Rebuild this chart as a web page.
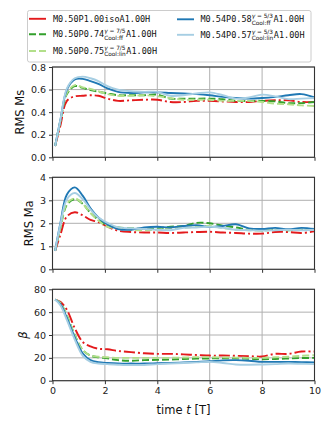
<!DOCTYPE html>
<html>
<head>
<meta charset="utf-8">
<script src="https://cdn.jsdelivr.net/npm/d3@7"></script>
<style>
  body { margin: 0; background: #fff; }
  svg { display: block; }
</style>
</head>
<body>
<div id="chart"></div>
<script>
// sampling times [T]
const time = [0.1, 0.3, 0.55, 0.85, 1.15, 1.45, 1.75, 2.1, 2.5, 3.0, 3.5, 4.0, 4.5, 5.0, 5.5, 6.0, 6.5, 7.0, 7.5, 8.0, 8.5, 9.0, 9.5, 10.0]

// RMS sonic Mach number
const msIso = [0.10, 0.28, 0.50, 0.54, 0.545, 0.55, 0.545, 0.52, 0.50, 0.505, 0.51, 0.51, 0.49, 0.49, 0.50, 0.50, 0.495, 0.49, 0.49, 0.50, 0.505, 0.505, 0.49, 0.49]
const msG75ff = [0.10, 0.32, 0.56, 0.63, 0.615, 0.595, 0.58, 0.565, 0.55, 0.55, 0.55, 0.555, 0.52, 0.52, 0.52, 0.52, 0.515, 0.50, 0.50, 0.50, 0.495, 0.48, 0.48, 0.49]
const msG75lin = [0.10, 0.32, 0.57, 0.64, 0.62, 0.605, 0.585, 0.56, 0.545, 0.545, 0.55, 0.54, 0.525, 0.51, 0.51, 0.51, 0.50, 0.50, 0.50, 0.49, 0.475, 0.47, 0.46, 0.455]
const msG53ff = [0.10, 0.33, 0.60, 0.69, 0.695, 0.675, 0.65, 0.61, 0.58, 0.57, 0.575, 0.575, 0.57, 0.565, 0.56, 0.55, 0.535, 0.525, 0.52, 0.525, 0.535, 0.55, 0.56, 0.53]
const msG53lin = [0.10, 0.33, 0.61, 0.70, 0.715, 0.70, 0.675, 0.63, 0.60, 0.585, 0.58, 0.58, 0.545, 0.55, 0.565, 0.575, 0.55, 0.52, 0.53, 0.555, 0.54, 0.515, 0.52, 0.525]

// RMS Alfven Mach number
const maIso = [0.8, 1.5, 2.3, 2.48, 2.35, 2.15, 2.05, 1.85, 1.68, 1.62, 1.60, 1.60, 1.58, 1.60, 1.62, 1.63, 1.60, 1.58, 1.55, 1.55, 1.62, 1.62, 1.58, 1.65]
const maG75ff = [0.8, 1.8, 2.8, 3.05, 2.85, 2.45, 2.15, 1.90, 1.82, 1.78, 1.75, 1.78, 1.85, 1.88, 2.02, 2.0, 1.90, 1.82, 1.72, 1.70, 1.72, 1.70, 1.72, 1.75]
const maG75lin = [0.8, 1.8, 2.85, 3.08, 2.85, 2.45, 2.12, 1.85, 1.78, 1.72, 1.70, 1.72, 1.78, 1.80, 1.85, 1.88, 1.80, 1.72, 1.70, 1.68, 1.72, 1.70, 1.72, 1.70]
const maG53ff = [0.8, 2.0, 3.25, 3.56, 3.2, 2.65, 2.25, 1.95, 1.75, 1.72, 1.82, 1.85, 1.82, 1.88, 1.92, 1.84, 1.88, 1.96, 1.78, 1.75, 1.80, 1.74, 1.80, 1.75]
const maG53lin = [0.8, 1.95, 3.05, 3.32, 3.05, 2.6, 2.25, 2.02, 1.82, 1.78, 1.75, 1.72, 1.70, 1.80, 1.82, 1.85, 1.80, 1.72, 1.70, 1.68, 1.70, 1.72, 1.70, 1.72]

// plasma beta
const betaIso = [71, 69, 62, 46, 34, 30, 28, 27.5, 26, 25, 24, 23.5, 23.5, 23, 22.5, 22, 22, 21.8, 21.5, 21.2, 23.5, 23.5, 25.5, 25.5]
const betaG75ff = [71, 68, 57, 40, 27, 22, 20.5, 19.5, 18, 17.5, 18, 18.2, 18.5, 19, 19.3, 19.5, 19.5, 19.5, 19.2, 18.8, 19, 19.4, 19.8, 20]
const betaG75lin = [71, 68, 57, 40, 27, 22, 21, 20.5, 20, 20, 20, 20, 20, 20.3, 20.6, 20.6, 20.4, 20.2, 20, 20, 20.5, 21, 21.8, 22.3]
const betaG53ff = [71, 67, 55, 38, 24, 18, 16.2, 15.5, 15, 15, 15, 15.3, 15.6, 16, 16.5, 17, 17.8, 18, 17.5, 16.5, 16.5, 16.5, 16.3, 16]
const betaG53lin = [71, 66, 53, 36, 22, 16.5, 15, 14.5, 14, 13.6, 13.8, 14.5, 15, 15.5, 16, 16.5, 15.5, 14.2, 14, 14.2, 14.5, 15, 14.8, 14.5]

// legend labels, split for the mathtext-like super/subscripts
const runNames = ['M0.50P1.00', 'M0.50P0.74', 'M0.50P0.75', 'M0.54P0.58', 'M0.54P0.57']
const runSup = ['', 'γ = 7/5', 'γ = 7/5', 'γ = 5/3', 'γ = 5/3']
const runSub = ['', 'Cool:ff', 'Cool:lin', 'Cool:ff', 'Cool:lin']
const runTail = ['isoA1.00H', 'A1.00H', 'A1.00H', 'A1.00H', 'A1.00H']

const timeTicks = [0, 2, 4, 6, 8, 10]
const msTicks = [0, 0.2, 0.4, 0.6, 0.8]
const maTicks = [0, 1, 2, 3, 4]
const betaTicks = [0, 20, 40, 60, 80]

const colors = ['#e31a1c', '#33a02c', '#b2df8a', '#1f78b4', '#a6cee3']
const dashes = ['11,3,2,3', '7,3', '7,3', null, null]

const width = 331
const height = 428

const svg = d3
  .select('#chart')
  .append('svg')
  .attr('width', width)
  .attr('height', height)

const xPositionScale = d3
  .scaleLinear()
  .domain([0, 10])
  .range([52.5, 314.5])

const panels = [
  { label: 'RMS Ms', ticks: msTicks, fmt: d3.format('.1f'), top: 67, bottom: 157.3,
    series: [msIso, msG75ff, msG75lin, msG53ff, msG53lin] },
  { label: 'RMS Ma', ticks: maTicks, fmt: d3.format('d'), top: 177.3, bottom: 269.3,
    series: [maIso, maG75ff, maG75lin, maG53ff, maG53lin] },
  { label: 'β', italic: true, ticks: betaTicks, fmt: d3.format('d'), top: 289.3, bottom: 380.7,
    series: [betaIso, betaG75ff, betaG75lin, betaG53ff, betaG53lin] }
]

const tickFont = 'DejaVu Sans, sans-serif'

panels.forEach(function(p, i) {
  const yPositionScale = d3
    .scaleLinear()
    .domain([p.ticks[0], p.ticks[p.ticks.length - 1]])
    .range([p.bottom, p.top])

  const g = svg.append('g')
  const x0 = xPositionScale.range()[0]
  const x1 = xPositionScale.range()[1]

  // grid
  g.selectAll('.vgrid')
    .data(timeTicks)
    .enter()
    .append('line')
    .attr('x1', d => xPositionScale(d))
    .attr('x2', d => xPositionScale(d))
    .attr('y1', p.top)
    .attr('y2', p.bottom)
    .attr('stroke', '#b0b0b0')
    .attr('stroke-width', 1)
  g.selectAll('.hgrid')
    .data(p.ticks)
    .enter()
    .append('line')
    .attr('x1', x0)
    .attr('x2', x1)
    .attr('y1', d => yPositionScale(d))
    .attr('y2', d => yPositionScale(d))
    .attr('stroke', '#b0b0b0')
    .attr('stroke-width', 1)

  // lines
  const clipId = 'clip' + i
  svg.append('clipPath')
    .attr('id', clipId)
    .append('rect')
    .attr('x', x0)
    .attr('y', p.top)
    .attr('width', x1 - x0)
    .attr('height', p.bottom - p.top)

  const line = d3
    .line()
    .x((d, j) => xPositionScale(time[j]))
    .y(d => yPositionScale(d))
    .curve(d3.curveCatmullRom.alpha(0.5))

  g.append('g')
    .attr('clip-path', 'url(#' + clipId + ')')
    .selectAll('path')
    .data(p.series)
    .enter()
    .append('path')
    .attr('d', d => line(d))
    .attr('fill', 'none')
    .attr('stroke', (d, j) => colors[j])
    .attr('stroke-width', 1.9)
    .attr('stroke-dasharray', (d, j) => dashes[j])

  // axes
  const yAxis = d3
    .axisLeft(yPositionScale)
    .tickValues(p.ticks)
    .tickFormat(p.fmt)
    .tickSize(3.5)
    .tickPadding(3)
  const yAxisG = g.append('g')
    .attr('class', 'axis y-axis')
    .attr('transform', 'translate(' + x0 + ',0)')
    .call(yAxis)

  const xAxis = d3
    .axisBottom(xPositionScale)
    .tickValues(timeTicks)
    .tickSize(3.5)
    .tickPadding(3)
  if (i < 2) xAxis.tickFormat('')
  g.append('g')
    .attr('class', 'axis x-axis')
    .attr('transform', 'translate(0,' + p.bottom + ')')
    .call(xAxis)

  g.selectAll('.axis .domain').remove()
  g.selectAll('.axis line').attr('stroke', '#333').attr('stroke-width', 1)
  g.selectAll('.axis text')
    .attr('fill', '#222')
    .style('font-family', tickFont)
    .style('font-size', '9.5px')

  // frame
  g.append('rect')
    .attr('x', x0)
    .attr('y', p.top)
    .attr('width', x1 - x0)
    .attr('height', p.bottom - p.top)
    .attr('fill', 'none')
    .attr('stroke', '#333')
    .attr('stroke-width', 1.1)

  // y label next to tick labels
  const tickLeft = yAxisG.node().getBBox().x + x0
  g.append('text')
    .attr('transform', 'translate(' + (tickLeft - 6.5) + ',' + (p.top + p.bottom) / 2 + ') rotate(-90)')
    .attr('text-anchor', 'middle')
    .style('font-family', tickFont)
    .style('font-size', '11.5px')
    .style('font-style', p.italic ? 'italic' : 'normal')
    .attr('fill', '#111')
    .text(p.label)
})

// x label
const xLabel = svg.append('text')
  .attr('x', (xPositionScale.range()[0] + xPositionScale.range()[1]) / 2)
  .attr('y', 414)
  .attr('text-anchor', 'middle')
  .style('font-family', tickFont)
  .style('font-size', '11.5px')
  .attr('fill', '#111')
xLabel.append('tspan').text('time ')
xLabel.append('tspan').style('font-style', 'italic').text('t')
xLabel.append('tspan').text(' [T]')

// legend
const legend = svg.append('g')
legend.append('rect')
  .attr('x', 27.5)
  .attr('y', 10.5)
  .attr('width', 283.5)
  .attr('height', 51.5)
  .attr('rx', 2)
  .attr('fill', '#fff')
  .attr('stroke', '#cccccc')
  .attr('stroke-width', 1)

const legendPos = [
  { hx: 29, tx: 53, y: 21.8 },
  { hx: 29, tx: 53, y: 37.3 },
  { hx: 29, tx: 53, y: 54 },
  { hx: 177, tx: 200.5, y: 22.3 },
  { hx: 177, tx: 200.5, y: 37.8 }
]

runNames.forEach(function(name, j) {
  const pos = legendPos[j]
  const item = legend.append('g')
  item.append('line')
    .attr('x1', pos.hx)
    .attr('x2', pos.hx + 17)
    .attr('y1', pos.y - 3)
    .attr('y2', pos.y - 3)
    .attr('stroke', colors[j])
    .attr('stroke-width', 1.9)
    .attr('stroke-dasharray', j === 0 ? null : dashes[j])

  const mono = { family: 'DejaVu Sans Mono, monospace', size: '8.5px' }
  const main = item.append('text')
    .attr('x', pos.tx)
    .attr('y', pos.y)
    .style('font-family', mono.family)
    .style('font-size', mono.size)
    .attr('fill', '#111')
    .text(runSup[j] ? name : name + runTail[j])
  let cx = pos.tx + main.node().getComputedTextLength()
  if (runSup[j]) {
    const sup = item.append('text')
      .attr('x', cx)
      .attr('y', pos.y - 4)
      .style('font-family', tickFont)
      .style('font-size', '5.8px')
      .attr('fill', '#111')
    sup.append('tspan').style('font-style', 'italic').text('γ')
    sup.append('tspan').text(runSup[j].slice(1))
    const sub = item.append('text')
      .attr('x', cx)
      .attr('y', pos.y + 2.2)
      .style('font-family', tickFont)
      .style('font-size', '5.8px')
      .attr('fill', '#111')
      .text(runSub[j])
    cx += Math.max(sup.node().getComputedTextLength(), sub.node().getComputedTextLength()) + 0.5
    item.append('text')
      .attr('x', cx)
      .attr('y', pos.y)
      .style('font-family', mono.family)
      .style('font-size', mono.size)
      .attr('fill', '#111')
      .text(runTail[j])
  }
})
</script>
</body>
</html>
